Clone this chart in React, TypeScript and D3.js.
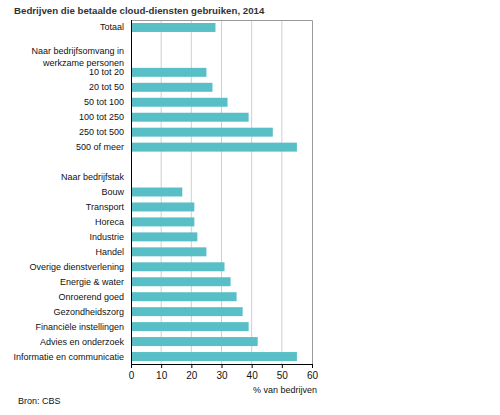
import React, { useRef, useEffect } from 'react';
import * as d3 from 'd3';

// rows top to bottom; '' = blank spacer, headers have no value
const categories = [
  'Totaal',
  '',
  'Naar bedrijfsomvang in\nwerkzame personen',
  '10 tot 20',
  '20 tot 50',
  '50 tot 100',
  '100 tot 250',
  '250 tot 500',
  '500 of meer',
  '',
  'Naar bedrijfstak',
  'Bouw',
  'Transport',
  'Horeca',
  'Industrie',
  'Handel',
  'Overige dienstverlening',
  'Energie & water',
  'Onroerend goed',
  'Gezondheidszorg',
  'Financiële instellingen',
  'Advies en onderzoek',
  'Informatie en communicatie',
];
const values: (number | null)[] = [
  28, null, null, 25, 27, 32, 39, 47, 55, null, null,
  17, 21, 21, 22, 25, 31, 33, 35, 37, 39, 42, 55,
];
const xTicks = [0, 10, 20, 30, 40, 50, 60];

const W = 500;
const H = 415;
const font = 'Arial, "Liberation Sans", sans-serif';

function App(): React.ReactElement {
  const svgRef = useRef<SVGSVGElement | null>(null);

  useEffect(() => {
    const svg = d3.select(svgRef.current);
    svg.selectAll('*').remove();

    const left = 131;
    const right = 312;
    const top = 20;
    const bottom = 364;

    const x = d3.scaleLinear().domain([0, 60]).range([left, right]);
    const y = d3.scaleBand<number>()
      .domain(categories.map((_, i) => i))
      .range([top, bottom])
      .paddingInner(0.4)
      .paddingOuter(0.2);

    svg.append('text')
      .attr('x', 14)
      .attr('y', 14)
      .attr('font-family', font)
      .attr('font-weight', 'bold')
      .attr('font-size', '9.7px')
      .attr('fill', '#333')
      .text('Bedrijven die betaalde cloud-diensten gebruiken, 2014');

    // gridlines
    svg.append('g')
      .selectAll('line')
      .data(xTicks.slice(1, -1))
      .enter()
      .append('line')
      .attr('x1', (d) => x(d))
      .attr('x2', (d) => x(d))
      .attr('y1', top)
      .attr('y2', bottom)
      .attr('stroke', '#cfcfcf')
      .attr('stroke-width', 1);

    // frame top & right
    svg.append('path')
      .attr('d', `M${left},${top + 0.5}H${right + 0.5}V${bottom}`)
      .attr('fill', 'none')
      .attr('stroke', '#9a9a9a');

    // bars
    const rows = categories.map((c, i) => ({ c, i, v: values[i] }));
    svg.append('g')
      .selectAll('rect')
      .data(rows.filter((d) => d.v !== null))
      .enter()
      .append('rect')
      .attr('x', x(0))
      .attr('y', (d) => y(d.i) as number)
      .attr('width', (d) => x(d.v as number) - x(0))
      .attr('height', y.bandwidth())
      .attr('fill', '#58bfc6');

    // category labels
    const labels = svg.append('g')
      .attr('font-family', font)
      .attr('font-size', '9px')
      .attr('fill', '#111')
      .attr('text-anchor', 'end');
    rows.filter((d) => d.c !== '').forEach((d) => {
      const lines = d.c.split('\n');
      const cy = (y(d.i) as number) + y.bandwidth() / 2;
      lines.forEach((ln, k) => {
        labels.append('text')
          .attr('x', 124)
          .attr('y', cy + 3 + (k - (lines.length - 1) / 2) * 12)
          .text(ln);
      });
    });

    // bottom axis
    const xAxis = svg.append('g')
      .attr('transform', `translate(0,${bottom})`)
      .call(d3.axisBottom(x).tickValues(xTicks).tickSize(4).tickSizeOuter(0));
    xAxis.select('.domain').attr('stroke', '#000');
    xAxis.selectAll('.tick line').attr('stroke', '#000');
    xAxis.selectAll('.tick text')
      .attr('font-family', font)
      .attr('font-size', '10px')
      .attr('fill', '#111')
      .attr('dy', '0')
      .attr('y', 15);

    // left axis line
    svg.append('line')
      .attr('x1', left + 0.5)
      .attr('x2', left + 0.5)
      .attr('y1', top)
      .attr('y2', bottom + 4)
      .attr('stroke', '#000');

    svg.append('text')
      .attr('x', 317)
      .attr('y', 393)
      .attr('text-anchor', 'end')
      .attr('font-family', font)
      .attr('font-size', '9px')
      .attr('fill', '#111')
      .text('% van bedrijven');

    svg.append('text')
      .attr('x', 18)
      .attr('y', 404)
      .attr('font-family', font)
      .attr('font-size', '9px')
      .attr('fill', '#111')
      .text('Bron: CBS');
  }, []);

  return (
    <svg
      ref={svgRef}
      width={W}
      height={H}
      style={{ position: 'absolute', left: 0, top: 0, background: '#fff' }}
    />
  );
}

export default App;
